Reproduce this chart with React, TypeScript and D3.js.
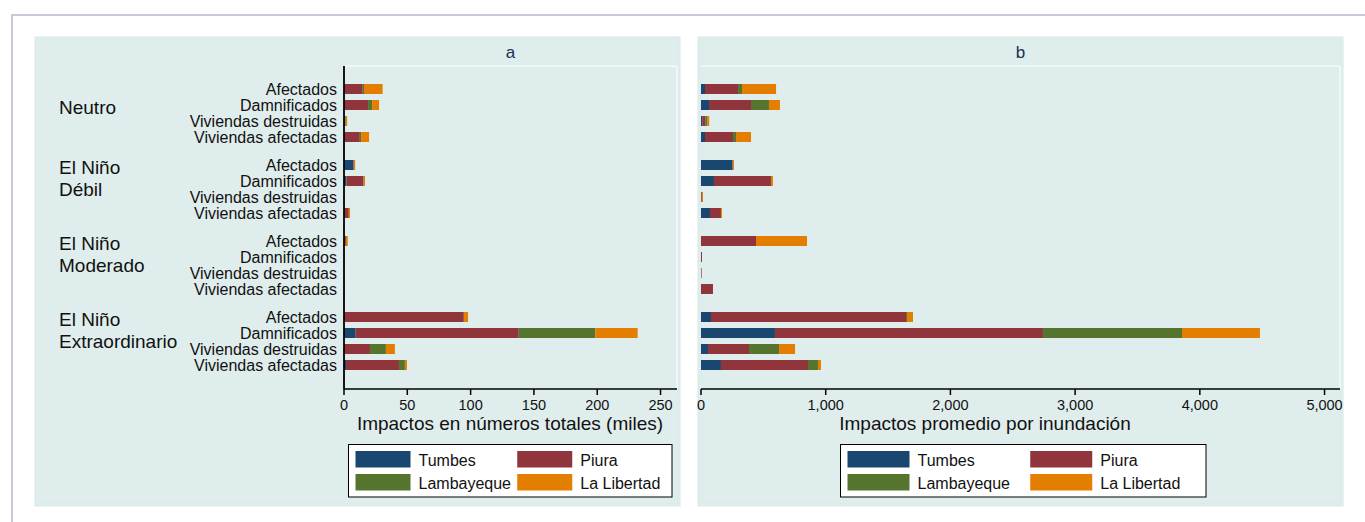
import React from 'react';
import * as d3 from 'd3';

// categories
const groups = ['Neutro', 'El Niño Débil', 'El Niño Moderado', 'El Niño Extraordinario'];
const groupLines = [['Neutro'], ['El Niño', 'Débil'], ['El Niño', 'Moderado'], ['El Niño', 'Extraordinario']];
const items = ['Afectados', 'Damnificados', 'Viviendas destruidas', 'Viviendas afectadas'];
const regions = ['Tumbes', 'Piura', 'Lambayeque', 'La Libertad'];
const colors = ['#1a476f', '#90353b', '#55752f', '#e37e00'];

// panel a: impactos totales (miles), rows = group x item
const totTumbes = [0.3, 0.5, 0.2, 0.3, 7.5, 2.0, 0, 0.5, 0, 0, 0, 0, 0.3, 9.2, 0.3, 1.6];
const totPiura = [14.5, 18.5, 0.8, 12.2, 0.3, 13.4, 0, 3.3, 1.5, 0.1, 0, 0.1, 94.3, 128.8, 20.2, 41.8];
const totLambayeque = [1.0, 3.2, 0.5, 1.0, 0, 0.2, 0, 0, 0, 0, 0, 0, 0.2, 60.5, 12.6, 4.7];
const totLibertad = [14.7, 5.5, 1.0, 6.3, 1.0, 1.0, 0.1, 1.0, 1.5, 0, 0, 0, 3.2, 33.4, 7.1, 1.6];

// panel b: impactos promedio por inundación
const avgTumbes = [32, 64, 10, 32, 251, 104, 3, 72, 0, 0, 0, 0, 80, 593, 56, 160];
const avgPiura = [265, 337, 24, 225, 5, 457, 5, 88, 441, 8, 5, 96, 1564, 2149, 329, 698];
const avgLambayeque = [32, 144, 16, 24, 0, 0, 0, 0, 0, 0, 0, 0, 8, 1115, 241, 80];
const avgLibertad = [273, 88, 16, 120, 8, 16, 8, 8, 409, 0, 0, 0, 48, 625, 128, 24];

const ticksA = [0, 50, 100, 150, 200, 250];
const ticksB = [0, 1000, 2000, 3000, 4000, 5000];

const FONT = '"Liberation Sans", Arial, Helvetica, sans-serif';
const BG = '#e0eded';

type Row = { [k: string]: number | string };

function buildRows(series: number[][]): Row[] {
  const rows: Row[] = [];
  groups.forEach((g, gi) => {
    items.forEach((it, ii) => {
      const idx = gi * items.length + ii;
      const r: Row = { group: g, item: it };
      regions.forEach((reg, ri) => { r[reg] = series[ri][idx]; });
      rows.push(r);
    });
  });
  return rows;
}

const rowsA = buildRows([totTumbes, totPiura, totLambayeque, totLibertad]);
const rowsB = buildRows([avgTumbes, avgPiura, avgLambayeque, avgLibertad]);

const plotTop = 66;
const plotBottom = 389;
const yGroup = d3.scaleBand<string>().domain(groups).range([81, 373]).paddingInner(12 / 76);
const yItem = d3.scaleBand<string>().domain(items).range([0, 64]);
const barH = 10;

interface PanelProps {
  title: string;
  left: number;
  right: number;
  x: d3.ScaleLinear<number, number>;
  rows: Row[];
  ticks: number[];
  fmt: (v: number) => string;
  axisTitle: string;
  axisTitleX: number;
  yAxis: boolean;
  legend: { x: number; w: number; sw: number };
}

const Panel: React.FC<PanelProps> = ({ title, left, right, x, rows, ticks, fmt, axisTitle, axisTitleX, yAxis, legend }) => {
  const stacked = d3.stack<Row>().keys(regions).value((d, k) => d[k] as number)(rows);
  const [x0, x1] = x.range();
  const center = (x0 + x1) / 2;
  const colW = legend.w / 2;
  return (
    <g>
      <rect x={left} y={37} width={right - left} height={469} fill={BG} stroke="#d8e8e8" strokeWidth={1} />
      <rect x={left + 2.5} y={39.5} width={right - left - 5} height={464} fill="none" stroke="#dbeaea" strokeWidth={1} />
      <text x={center} y={58} textAnchor="middle" fontFamily={FONT} fontSize={17} fill="#1a3050">{title}</text>

      {/* plot region outline */}
      <line x1={x0} x2={x1} y1={plotTop} y2={plotTop} stroke="#f4fafa" strokeWidth={1.5} />
      <line x1={x1} x2={x1} y1={plotTop} y2={plotBottom} stroke="#f4fafa" strokeWidth={1.5} />

      {stacked.map((layer, li) => (
        <g key={layer.key} fill={colors[li]}>
          {layer.map((d, i) => {
            const w = x(d[1]) - x(d[0]);
            if (w <= 0) return null;
            const yy = (yGroup(d.data.group as string) ?? 0) + (yItem(d.data.item as string) ?? 0) + (16 - barH) / 2;
            return <rect key={i} x={x(d[0])} y={yy} width={w} height={barH} />;
          })}
        </g>
      ))}

      {/* x axis */}
      <line x1={x0} x2={x1} y1={plotBottom} y2={plotBottom} stroke="#000" strokeWidth={1.5} />
      {ticks.map(t => (
        <g key={t}>
          <line x1={x(t)} x2={x(t)} y1={plotBottom} y2={plotBottom + 6} stroke="#000" strokeWidth={1.5} />
          <text x={x(t)} y={410} textAnchor="middle" fontFamily={FONT} fontSize={14.5} fill="#111">{fmt(t)}</text>
        </g>
      ))}
      <text x={axisTitleX} y={430} textAnchor="middle" fontFamily={FONT} fontSize={19} fill="#111">{axisTitle}</text>

      {yAxis && (
        <g>
          <line x1={x0} x2={x0} y1={plotTop} y2={plotBottom} stroke="#000" strokeWidth={1.8} />
          {rows.map((r, i) => (
            <text key={i} x={x0 - 7} y={(yGroup(r.group as string) ?? 0) + (yItem(r.item as string) ?? 0) + 14}
              textAnchor="end" fontFamily={FONT} fontSize={16} fill="#111">{r.item as string}</text>
          ))}
          {groups.map((g, gi) => {
            const top = yGroup(g) ?? 0;
            const lines = groupLines[gi];
            return lines.map((ln, li) => (
              <text key={g + li} x={59} y={lines.length === 1 ? top + 33 : top + 17 + li * 22}
                fontFamily={FONT} fontSize={19} fill="#111">{ln}</text>
            ));
          })}
        </g>
      )}

      {/* legend */}
      <rect x={legend.x} y={444.5} width={legend.w} height={52.5} fill="#fff" stroke="#000" strokeWidth={1} />
      {regions.map((reg, i) => {
        const col = i % 2;
        const row = Math.floor(i / 2);
        const lx = legend.x + 7 + col * colW;
        const ly = 451 + row * 23;
        return (
          <g key={reg}>
            <rect x={lx} y={ly} width={legend.sw} height={16.5} fill={colors[i]} />
            <text x={lx + legend.sw + 8} y={ly + 15} fontFamily={FONT} fontSize={16} fill="#111">{reg}</text>
          </g>
        );
      })}
    </g>
  );
};

export default function App() {
  const xA = d3.scaleLinear().domain([0, 263]).range([344, 677]);
  const xB = d3.scaleLinear().domain([0, 5124]).range([701, 1340]);
  const comma = d3.format(',');
  return (
    <div style={{ position: 'absolute', left: 0, top: 0 }}>
      <svg width={1365} height={522} style={{ display: 'block', background: '#fff' }}>
        <rect x={12} y={15} width={1360} height={520} fill="#fff" stroke="#c8cadb" strokeWidth={2} />
        <Panel title="a" left={35} right={680} x={xA} rows={rowsA} ticks={ticksA} fmt={v => String(v)}
          axisTitle="Impactos en números totales (miles)" axisTitleX={510} yAxis={true}
          legend={{ x: 348.5, w: 323.5, sw: 55 }} />
        <Panel title="b" left={698} right={1343} x={xB} rows={rowsB} ticks={ticksB} fmt={v => comma(v)}
          axisTitle="Impactos promedio por inundación" axisTitleX={985} yAxis={false}
          legend={{ x: 840.5, w: 365.5, sw: 62 }} />
      </svg>
    </div>
  );
}
